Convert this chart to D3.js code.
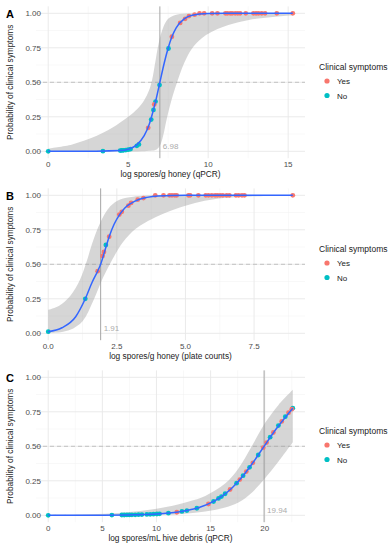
<!DOCTYPE html>
<html>
<head>
<meta charset="utf-8">
<script src="https://cdn.jsdelivr.net/npm/d3@7"></script>
<style>
  body { margin: 0; background: #fff; }
  svg { display: block; font-family: "Liberation Sans", Arial, sans-serif; }
</style>
</head>
<body>
<div id="root"></div>
<script>
"use strict";

// ---- panel A: qPCR honey ----
const aYes = [[6.25, 0.17], [6.63, 0.34], [7.73, 0.83], [8.25, 0.93], [8.56, 0.96], [8.8, 0.98], [9.15, 0.99],
  [9.46, 1], [9.75, 1], [10.25, 1], [10.58, 1], [11.08, 1], [11.2, 1], [11.38, 1], [11.5, 1], [11.69, 1],
  [11.85, 1], [12, 1], [12.35, 1], [12.83, 1], [13.0, 1], [13.15, 1], [13.35, 1], [13.56, 1], [14.29, 1], [15.29, 1]];
const aNo = [[0, 0], [3.42, 0.001], [4.5, 0.005], [4.6, 0.006], [4.7, 0.007], [4.85, 0.009], [5.0, 0.012],
  [5.15, 0.016], [5.54, 0.04], [5.67, 0.05], [6.44, 0.23], [6.58, 0.3], [6.71, 0.36], [6.96, 0.48], [7.52, 0.745]];
const aCurve = [[0, 0], [3, 0.001], [4.5, 0.005], [5, 0.015], [5.5, 0.043], [6, 0.113], [6.3, 0.19], [6.5, 0.267],
  [6.75, 0.38], [7, 0.51], [7.25, 0.638], [7.5, 0.748], [7.75, 0.835], [8, 0.895], [8.5, 0.96], [9, 0.986],
  [10, 0.998], [11, 1], [15.29, 1]];
const aLower = [[0, 0], [6, 0.001], [6.5, 0.005], [6.8, 0.015], [7.0, 0.045], [7.2, 0.12], [7.42, 0.24],
  [7.73, 0.38], [8.0, 0.48], [8.5, 0.64], [8.98, 0.744], [9.6, 0.82], [10.2, 0.865], [11, 0.905], [12.1, 0.94],
  [13, 0.96], [14.2, 0.975], [15.29, 0.985]];
const aUpper = [[0, 0.02], [1.5, 0.05], [3, 0.11], [4, 0.17], [5, 0.25], [5.6, 0.31], [6, 0.37], [6.3, 0.44],
  [6.5, 0.52], [6.7, 0.65], [6.9, 0.78], [7.2, 0.9], [7.5, 0.96], [8, 0.99], [9, 0.999], [10, 1], [15.29, 1]];

// ---- panel B: plate counts honey ----
const bYes = [[1.8, 0.45], [1.98, 0.56], [2.03, 0.59], [2.22, 0.7], [2.59, 0.86], [2.68, 0.88], [2.92, 0.925],
  [3.02, 0.945], [3.26, 0.968], [3.47, 0.98], [3.9, 1], [4.2, 1], [4.42, 1], [4.51, 1], [4.61, 1], [4.68, 1],
  [5.11, 1], [5.17, 1], [5.47, 1], [5.74, 1], [5.84, 1], [5.96, 1], [6.08, 1], [6.16, 1], [6.26, 1], [6.36, 1],
  [6.5, 1], [6.6, 1], [6.84, 1], [6.94, 1], [7.06, 1], [7.15, 1], [8.91, 1]];
const bNo = [[0, 0.012], [1.35, 0.25], [2.1, 0.64]];
const bCurve = [[0, 0.012], [0.5, 0.04], [1.0, 0.12], [1.35, 0.25], [1.6, 0.37], [1.8, 0.45], [1.91, 0.5],
  [2.05, 0.59], [2.22, 0.7], [2.4, 0.79], [2.6, 0.86], [2.8, 0.91], [3.0, 0.94], [3.3, 0.97], [3.6, 0.985],
  [4, 0.995], [5, 1], [8.91, 1]];
const bLower = [[0, 0.003], [0.5, 0.01], [0.8, 0.025], [1.26, 0.09], [1.63, 0.23], [1.99, 0.4], [2.35, 0.54],
  [2.72, 0.66], [3.2, 0.76], [3.8, 0.83], [4.3, 0.875], [5.0, 0.925], [5.7, 0.96], [6.4, 0.98], [7.2, 0.99],
  [8.91, 0.998]];
const bUpper = [[0, 0.17], [0.4, 0.2], [0.8, 0.27], [1.16, 0.39], [1.4, 0.52], [1.6, 0.65], [1.89, 0.8],
  [2.26, 0.92], [2.62, 0.97], [3.1, 0.99], [4, 1], [8.91, 1]];

// ---- panel C: qPCR hive debris ----
const cYes = [[11.88, 0.022], [14.8, 0.082], [16.8, 0.187], [17.7, 0.259], [18.3, 0.317], [18.9, 0.38],
  [19.86, 0.49], [20.17, 0.527], [20.8, 0.6], [21.57, 0.68], [22.2, 0.743], [22.5, 0.769]];
const cNo = [[0, 0.0001], [5.88, 0.0014], [6.8, 0.0021], [7.02, 0.0023], [7.27, 0.0026], [7.5, 0.0029],
  [7.73, 0.0033], [8.03, 0.0037], [8.34, 0.0043], [8.65, 0.005], [9.11, 0.0062], [9.42, 0.0072], [9.72, 0.0082],
  [10.04, 0.0095], [10.28, 0.0107], [11.1, 0.0155], [12.35, 0.028], [12.81, 0.034], [13.73, 0.051],
  [15.27, 0.1], [15.73, 0.122], [16.0, 0.136], [16.34, 0.156], [17.4, 0.233], [18.0, 0.287], [18.6, 0.348],
  [19.4, 0.437], [20.5, 0.566], [21.26, 0.65], [21.9, 0.715], [22.59, 0.776]];
const cCurve = [[0, 0.0001], [5, 0.001], [8, 0.004], [10, 0.009], [12, 0.024], [14, 0.058], [15, 0.09],
  [16, 0.136], [17, 0.2], [18, 0.287], [19, 0.392], [19.94, 0.5], [21, 0.62], [22, 0.72], [22.59, 0.776]];
const cLower = [[0, 0], [8, 0.0005], [10.8, 0.004], [12.65, 0.012], [14.5, 0.027], [16.34, 0.056], [17.57, 0.092],
  [18.8, 0.164], [20.04, 0.27], [21.27, 0.39], [22.59, 0.53]];
const cUpper = [[0, 0.002], [3, 0.005], [6, 0.014], [8, 0.028], [10, 0.048], [11.5, 0.07], [13, 0.1],
  [14.5, 0.14], [16.34, 0.23], [17.57, 0.34], [18.8, 0.5], [20.04, 0.67], [21.27, 0.8], [22.59, 0.91]];

const panels = [
  { tag: "A", xMax: 15.29, xTicks: [0, 5, 10, 15], xMinor: [2.5, 7.5, 12.5], fmt: d3.format("d"),
    xTitle: "log spores/g honey (qPCR)", cut: 6.98, yes: aYes, no: aNo, curve: aCurve, lower: aLower, upper: aUpper },
  { tag: "B", xMax: 8.91, xTicks: [0, 2.5, 5, 7.5], xMinor: [1.25, 3.75, 6.25, 8.75], fmt: d3.format(".1f"),
    xTitle: "log spores/g honey (plate counts)", cut: 1.91, yes: bYes, no: bNo, curve: bCurve, lower: bLower, upper: bUpper },
  { tag: "C", xMax: 22.59, xTicks: [0, 5, 10, 15, 20], xMinor: [2.5, 7.5, 12.5, 17.5, 22.5], fmt: d3.format("d"),
    xTitle: "log spores/mL hive debris (qPCR)", cut: 19.94, yes: cYes, no: cNo, curve: cCurve, lower: cLower, upper: cUpper },
];

const yTicks = [0, 0.25, 0.5, 0.75, 1];
const yMinor = [0.125, 0.375, 0.625, 0.875];

const width = 391;
const height = 550;
const panelStep = 182;
const plotLeft = 36;
const plotRight = 305;
const plotTop = 6.4;
const plotBottom = 158.2;
const colors = { yes: "#F8766D", no: "#00BFC4", line: "#3366FF" };

const svg = d3.select("#root").append("svg").attr("width", width).attr("height", height);

panels.forEach((p, i) => {
  const g = svg.append("g").attr("transform", `translate(0, ${i * panelStep})`);

  const x = d3.scaleLinear().domain([-0.05 * p.xMax, 1.05 * p.xMax]).range([plotLeft, plotRight]);
  const y = d3.scaleLinear().domain([-0.05, 1.05]).range([plotBottom, plotTop]);

  // grid
  g.selectAll(".ymin").data(yMinor).enter().append("line")
    .attr("x1", plotLeft).attr("x2", plotRight).attr("y1", y).attr("y2", y)
    .attr("stroke", "#f0f0f0").attr("stroke-width", 0.5);
  g.selectAll(".xmin").data(p.xMinor.filter((v) => x(v) < plotRight)).enter().append("line")
    .attr("x1", x).attr("x2", x).attr("y1", plotTop).attr("y2", plotBottom)
    .attr("stroke", "#f0f0f0").attr("stroke-width", 0.5);
  g.selectAll(".ymaj").data(yTicks).enter().append("line")
    .attr("x1", plotLeft).attr("x2", plotRight).attr("y1", y).attr("y2", y)
    .attr("stroke", "#e8e8e8").attr("stroke-width", 0.9);
  g.selectAll(".xmaj").data(p.xTicks).enter().append("line")
    .attr("x1", x).attr("x2", x).attr("y1", plotTop).attr("y2", plotBottom)
    .attr("stroke", "#e8e8e8").attr("stroke-width", 0.9);

  // reference lines
  g.append("line")
    .attr("x1", plotLeft).attr("x2", plotRight).attr("y1", y(0.5)).attr("y2", y(0.5))
    .attr("stroke", "#b8b8b8").attr("stroke-width", 0.8).attr("stroke-dasharray", "4,3");
  g.append("line")
    .attr("x1", x(p.cut)).attr("x2", x(p.cut)).attr("y1", plotTop).attr("y2", plotBottom)
    .attr("stroke", "#a6a6a6").attr("stroke-width", 1);

  // confidence band: upper edge forward, lower edge back
  const edge = d3.line().x((d) => x(d[0])).y((d) => y(d[1])).curve(d3.curveCatmullRom.alpha(0.5));
  const upperPath = edge(p.upper);
  const lowerPath = edge(p.lower.slice().reverse());
  g.append("path")
    .attr("d", upperPath + "L" + lowerPath.slice(1) + "Z")
    .attr("fill", "#999").attr("fill-opacity", 0.4);

  // points
  g.selectAll(".no").data(p.no).enter().append("circle")
    .attr("cx", (d) => x(d[0])).attr("cy", (d) => y(d[1])).attr("r", 2.4).attr("fill", colors.no);
  g.selectAll(".yes").data(p.yes).enter().append("circle")
    .attr("cx", (d) => x(d[0])).attr("cy", (d) => y(d[1])).attr("r", 2.4).attr("fill", colors.yes);

  // fitted curve
  const line = d3.line().x((d) => x(d[0])).y((d) => y(d[1])).curve(d3.curveMonotoneX);
  g.append("path").datum(p.curve).attr("d", line)
    .attr("fill", "none").attr("stroke", colors.line).attr("stroke-width", 1.5);

  // cut label
  g.append("text").attr("x", x(p.cut) + 3).attr("y", y(0) - 2)
    .attr("font-size", 8).attr("fill", "#ababab").text(p.cut.toFixed(2));

  // axes text
  g.selectAll(".xt").data(p.xTicks).enter().append("text")
    .attr("x", x).attr("y", plotBottom + 9).attr("text-anchor", "middle")
    .attr("font-size", 8).attr("fill", "#4d4d4d").text(p.fmt);
  g.selectAll(".yt").data(yTicks).enter().append("text")
    .attr("x", 41).attr("y", (d) => y(d) + 3).attr("text-anchor", "end")
    .attr("font-size", 8).attr("fill", "#4d4d4d").text(d3.format(".2f"));

  g.append("text").attr("x", (plotLeft + plotRight) / 2).attr("y", plotBottom + 19)
    .attr("text-anchor", "middle").attr("font-size", 8.3).attr("fill", "#1a1a1a").text(p.xTitle);
  g.append("text").attr("transform", `translate(13, ${(plotTop + plotBottom) / 2}) rotate(-90)`)
    .attr("text-anchor", "middle").attr("font-size", 8.3).attr("fill", "#1a1a1a")
    .text("Probability of clinical symptoms");

  g.append("text").attr("x", 6).attr("y", 17.5).attr("font-size", 11).attr("font-weight", "bold")
    .attr("fill", "#000").text(p.tag);

  // legend
  const lg = g.append("g");
  lg.append("text").attr("x", 319).attr("y", 69.5).attr("font-size", 8.5).attr("fill", "#1a1a1a")
    .text("Clinical symptoms");
  [["Yes", colors.yes], ["No", colors.no]].forEach(([label, c], k) => {
    const cy = 81 + k * 14.5;
    lg.append("circle").attr("cx", 327).attr("cy", cy).attr("r", 2.6).attr("fill", c);
    lg.append("text").attr("x", 337).attr("y", cy + 3).attr("font-size", 8).attr("fill", "#1a1a1a").text(label);
  });
});
</script>
</body>
</html>
